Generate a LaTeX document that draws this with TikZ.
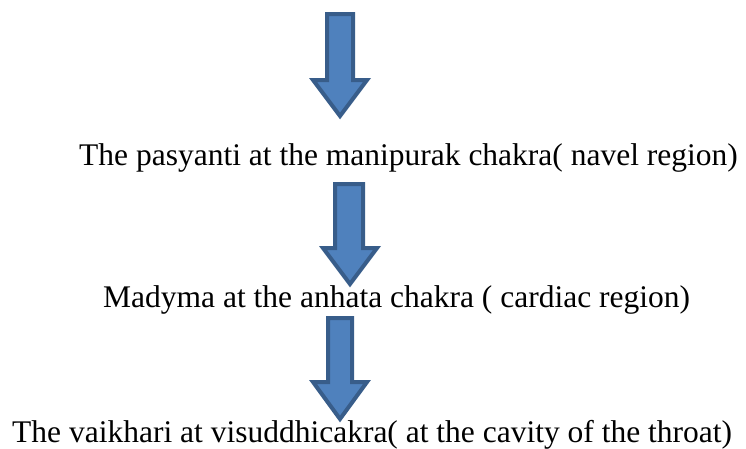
\documentclass[tikz,border=0pt]{standalone}
\usepackage{fontspec}
\setmainfont{Liberation Serif}
\usepackage{tikz}
\usetikzlibrary{positioning}

\definecolor{arrowfill}{HTML}{4F81BD}
\definecolor{arrowline}{HTML}{385D8A}

\begin{document}
\begin{tikzpicture}[
  x=1pt, y=-1pt,
  font=\fontsize{31.5}{36}\selectfont,
  lbl/.style={inner sep=0pt, anchor=base west},
  blockarr/.style={fill=arrowfill, draw=arrowline, line width=4pt, line join=miter}
]
  \useasboundingbox (0,0) rectangle (746,448);
  % three stages of speech, top to bottom
  \node[lbl] (pasyanti) at (79,165) {The pasyanti at the manipurak chakra( navel region)};
  \node[lbl] (madyma)   at (103,307) {Madyma at the anhata chakra ( cardiac region)};
  \node[lbl] (vaikhari) at (12,442) {The vaikhari at visuddhicakra( at the cavity of the throat)};
  % block arrows between the stages
  \draw[blockarr] (327,14) -- (353,14) -- (353,80) -- (367,80) -- (340,116)
    -- (313,80) -- (327,80) -- cycle;
  \draw[blockarr] (335,184) -- (363,184) -- (363,248) -- (377,248) -- (350,284)
    -- (323,248) -- (335,248) -- cycle;
  \draw[blockarr] (328,318) -- (352,318) -- (352,382) -- (367,382) -- (340,419)
    -- (313,382) -- (328,382) -- cycle;
\end{tikzpicture}
\end{document}
